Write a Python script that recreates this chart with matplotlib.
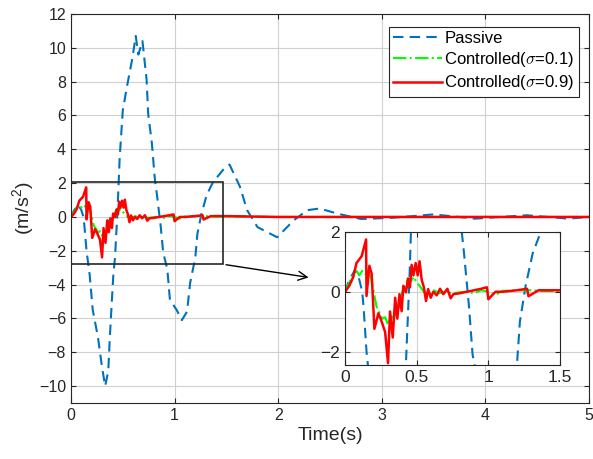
import matplotlib
matplotlib.use("Agg")
import matplotlib.pyplot as plt
from matplotlib.patches import Rectangle

plt.rcParams['font.family'] = ['Liberation Sans', 'DejaVu Sans']
plt.rcParams['mathtext.fontset'] = 'cm'

# Passive response
t_passive = [0.0, 0.03, 0.07, 0.10, 0.12, 0.13, 0.15, 0.18, 0.21, 0.26, 0.30, 0.33, 0.36,
             0.375, 0.395, 0.41, 0.425, 0.45, 0.47, 0.50, 0.54, 0.59, 0.625, 0.65, 0.69,
             0.73, 0.745, 0.78, 0.81, 0.83, 0.865, 0.89, 0.93, 0.955, 1.02, 1.07, 1.12,
             1.15, 1.20, 1.22, 1.26, 1.31, 1.37, 1.47, 1.53, 1.63, 1.70, 1.80, 1.99,
             2.15, 2.28, 2.40, 2.57, 2.80, 3.10, 3.50, 3.90, 4.40, 4.80, 5.0]
y_passive = [0.0, 0.4, 0.73, 0.4, 0.0, -0.55, -2.0, -3.4, -5.5, -7.1, -8.9, -10.0, -9.1,
             -7.1, -4.9, -3.3, -2.4, 0.5, 3.5, 6.3, 7.7, 9.3, 10.7, 9.6, 10.4,
             8.1, 6.1, 4.4, 2.2, 1.3, -0.5, -2.1, -3.1, -4.9, -5.5, -6.1, -5.6,
             -3.9, -2.4, -1.0, 0.2, 1.3, 2.05, 2.8, 3.1, 1.8, 0.4, -0.6, -1.2,
             -0.2, 0.4, 0.5, 0.2, -0.12, -0.05, 0.15, -0.1, 0.1, -0.1, 0.0]

# Controlled, sigma = 0.1
t_c1 = [0.0, 0.03, 0.06, 0.08, 0.10, 0.12, 0.14, 0.16, 0.18, 0.20, 0.22, 0.24, 0.26,
        0.28, 0.30, 0.32, 0.34, 0.36, 0.38, 0.40, 0.42, 0.44, 0.46, 0.48, 0.50, 0.52,
        0.55, 0.58, 0.62, 0.66, 0.70, 0.75, 0.80, 0.85, 0.90, 0.95, 1.00, 1.05, 1.10,
        1.20, 1.30, 1.40, 1.50, 2.0, 3.0, 4.0, 5.0]
y_c1 = [0.0, 0.3, 0.6, 0.7, 0.55, 0.7, 0.6, 0.65, 0.5, 0.0, -0.5, -0.7, -0.9,
        -0.85, -1.1, -0.8, -0.9, -0.6, -0.5, 0.0, 0.2, 0.45, 0.35, 0.5, 0.3, 0.2,
        0.0, -0.1, 0.05, -0.05, 0.0, -0.05, -0.02, 0.0, -0.05, 0.05, 0.0, -0.1, 0.03,
        0.05, 0.05, 0.02, 0.03, 0.0, 0.0, 0.0, 0.0]

# Controlled, sigma = 0.9
t_c9 = [0.0, 0.03, 0.058, 0.08, 0.116, 0.147, 0.15, 0.17, 0.186, 0.205, 0.233, 0.256,
        0.28, 0.30, 0.314, 0.333, 0.35, 0.365, 0.38, 0.395, 0.407, 0.425, 0.44, 0.453,
        0.465, 0.477, 0.493, 0.507, 0.52, 0.535, 0.55, 0.565, 0.58, 0.598, 0.616, 0.64,
        0.663, 0.686, 0.714, 0.737, 0.756, 0.80, 0.85, 0.90, 0.95, 0.99, 1.0, 1.05,
        1.10, 1.20, 1.27, 1.28, 1.35, 1.42, 1.50, 2.0, 3.0, 4.0, 5.0]
y_c9 = [0.0, 0.2, 0.5, 0.96, 1.19, 1.75, -0.14, 0.87, 0.6, -1.24, -0.72, -1.0,
        -1.35, -2.39, -0.66, -1.53, -0.2, -0.9, -0.08, -0.65, 0.2, -0.02, 0.44, 0.15,
        0.9, 0.55, 0.96, 0.55, 1.02, 0.4, 0.15, -0.31, 0.09, -0.2, 0.0, -0.12,
        0.1, -0.08, 0.1, -0.22, -0.08, -0.05, 0.0, 0.05, 0.1, 0.15, -0.25, 0.0,
        0.0, 0.05, 0.1, -0.15, 0.05, 0.05, 0.05, 0.0, 0.0, 0.0, 0.0]

labels = ['Passive', r'Controlled($\sigma$=0.1)', r'Controlled($\sigma$=0.9)']
c_blue, c_green, c_red = '#0072BD', '#00FF00', '#FF0000'

fig = plt.figure(figsize=(5.93, 4.59), dpi=100)
ax = fig.add_axes([0.1197, 0.122, 0.8736, 0.8475])

def draw(a):
    a.plot(t_passive, y_passive, color=c_blue, ls=(0, (5, 3)), lw=1.5, label=labels[0])
    a.plot(t_c1, y_c1, color=c_green, ls='-.', lw=1.5, label=labels[1])
    a.plot(t_c9, y_c9, color=c_red, ls='-', lw=1.8, label=labels[2])

draw(ax)
ax.set_xlim(0, 5)
ax.set_ylim(-11, 12)
ax.set_xticks([0, 1, 2, 3, 4, 5])
ax.set_yticks(list(range(-10, 13, 2)))
ax.grid(True, color='#d0d0d0', lw=0.8)
ax.tick_params(direction='in', top=True, right=True, labelsize=11.5, color='#262626',
               labelcolor='#262626')
for s in ax.spines.values():
    s.set_color('#262626')
ax.set_xlabel('Time(s)', fontsize=14, color='#262626', labelpad=3)
ax.set_ylabel(r'(m/s$\mathregular{^2}$)', fontsize=14, color='#262626', labelpad=2)
leg = ax.legend(loc='upper right', fontsize=12, fancybox=False, edgecolor='#262626',
                framealpha=1, handlelength=2.9, borderpad=0.25, labelspacing=0.25,
                handletextpad=0.15, borderaxespad=0, bbox_to_anchor=(0.98, 0.967))
leg.get_frame().set_linewidth(0.8)

# zoom rectangle and arrow
ax.add_patch(Rectangle((0, -2.8), 1.47, 4.85, fill=False, ec='#262626', lw=1.2, zorder=5))
ax.annotate('', xy=(2.32, -3.6), xytext=(1.47, -2.8),
            arrowprops=dict(arrowstyle='->', color='black', lw=1.0, mutation_scale=16))

# inset
axin = fig.add_axes([0.5818, 0.2048, 0.3626, 0.2898])
draw(axin)
axin.set_xlim(0, 1.5)
axin.set_ylim(-2.45, 2)
axin.set_xticks([0, 0.5, 1, 1.5])
axin.set_xticklabels(['0', '0.5', '1', '1.5'])
axin.set_yticks([-2, 0, 2])
axin.grid(True, color='#d0d0d0', lw=0.8)
axin.tick_params(direction='in', top=True, right=True, labelsize=12.5, color='#262626',
                 labelcolor='#262626')
for s in axin.spines.values():
    s.set_color('#262626')

fig.savefig('out.png', dpi=100)
